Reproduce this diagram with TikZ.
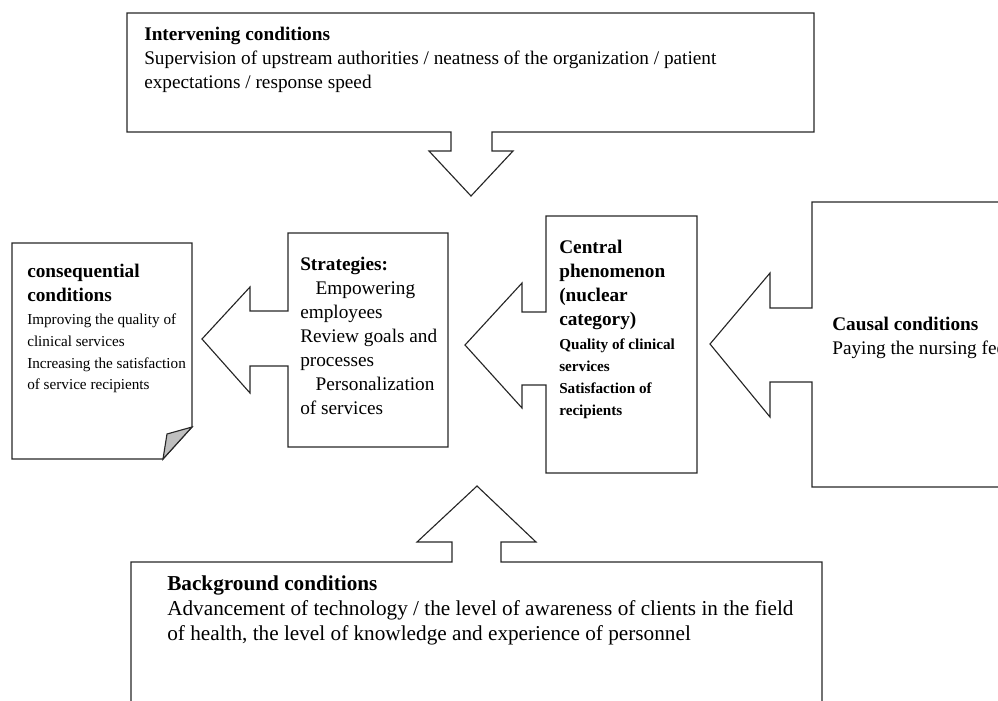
\documentclass[tikz,border=0pt]{standalone}
\usepackage{fontspec}
\setmainfont{Liberation Serif}
\tikzset{
  outline/.style={draw=black!85, line width=0.8pt, line join=miter},
  txt/.style={anchor=north west, inner sep=0pt, align=left, font=\fontsize{13.7}{17}\selectfont},
  bigtxt/.style={txt, font=\fontsize{15.1}{17.8}\selectfont},
  smalltxt/.style={txt, font=\fontsize{10.8}{15.3}\selectfont}
}
\begin{document}
\begin{tikzpicture}[x=0.025cm, y=-0.025cm]
\useasboundingbox (0,0) rectangle (998,700);
\clip (0,0) rectangle (998,700);
\draw[outline] (127,13) -- (814,13) -- (814,132) -- (492,132) -- (492,151) -- (513,151) -- (471,196) -- (429,151) -- (451,151) -- (451,132) -- (127,132) -- cycle;
\draw[outline] (131,562) -- (452,562) -- (452,542) -- (417,542) -- (477,486) -- (536,542) -- (501,542) -- (501,562) -- (822,562) -- (822,710) -- (131,710) -- cycle;
\draw[outline] (12,243) -- (192,243) -- (192,427) -- (163,459) -- (12,459) -- cycle;
\draw[outline, fill=black!25] (192,427) -- (167,434) -- (163,459) -- cycle;
\draw[outline] (288,233) -- (448,233) -- (448,447) -- (288,447) -- (288,366) -- (250,366) -- (250,393) -- (202,339) -- (250,287) -- (250,311) -- (288,311) -- cycle;
\draw[outline] (546,216) -- (697,216) -- (697,473) -- (546,473) -- (546,385) -- (522,385) -- (522,408) -- (465,345) -- (522,283) -- (522,312) -- (546,312) -- cycle;
\draw[outline] (1010,202) -- (812,202) -- (812,308) -- (770,308) -- (770,273) -- (710,344) -- (770,417) -- (770,382) -- (812,382) -- (812,487) -- (1010,487);
\node[txt] (interv) at (144,27) {\textbf{Intervening conditions}\\Supervision of upstream authorities / neatness of the organization / patient\\expectations / response speed};
\node[txt] (conseqtitle) at (27,264) {\textbf{consequential}\\\textbf{conditions}};
\node[smalltxt] (conseq) at (27,314) {Improving the quality of\\clinical services\\Increasing the satisfaction\\of service recipients};
\node[txt] (strat) at (300,257) {\textbf{Strategies:}\\\hspace{0.8em}Empowering\\employees\\Review goals and\\processes\\\hspace{0.8em}Personalization\\of services};
\node[txt] (centraltitle) at (559,240) {\textbf{Central}\\\textbf{phenomenon}\\\textbf{(nuclear}\\\textbf{category)}};
\node[smalltxt, font=\fontsize{10.8}{15.6}\selectfont\bfseries] (central) at (559,339) {Quality of clinical\\services\\Satisfaction of\\recipients};
\node[txt] (causal) at (832,317) {\textbf{Causal conditions}\\Paying the nursing fee};
\node[bigtxt] (backgr) at (167,575) {\textbf{Background conditions}\\Advancement of technology / the level of awareness of clients in the field\\of health, the level of knowledge and experience of personnel};
\end{tikzpicture}
\end{document}
